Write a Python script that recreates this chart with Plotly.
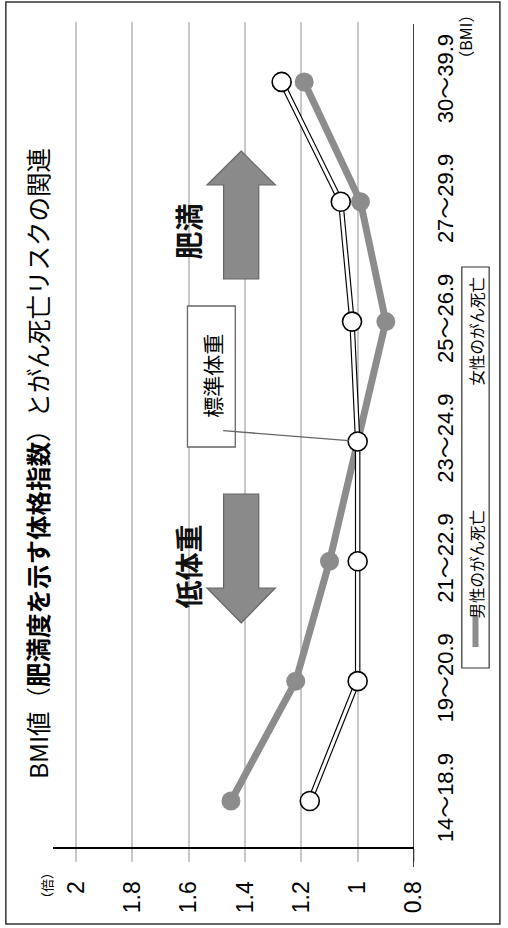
import plotly.graph_objects as go

# BMI categories (bottom to top) and relative cancer-death risk
categories = ["14～18.9", "19～20.9", "21～22.9", "23～24.9", "25～26.9", "27～29.9", "30～39.9"]
men_risk = [1.45, 1.22, 1.10, 1.00, 0.90, 0.99, 1.19]
women_risk = [1.17, 1.00, 1.00, 1.00, 1.02, 1.06, 1.27]
value_ticks = [0.8, 1.0, 1.2, 1.4, 1.6, 1.8, 2.0]
value_tick_text = ["0.8", "1", "1.2", "1.4", "1.6", "1.8", "2"]

W, H = 508, 928
GRAY = "#8c8c8c"
FONT = "Liberation Sans, Noto Sans CJK JP, sans-serif"
JFONT = "Noto Sans CJK JP, sans-serif"


def px(x):
    return x / W


def py(y):
    return 1 - y / H


fig = go.Figure()

# men: thick gray line with filled markers
fig.add_trace(go.Scatter(
    x=men_risk, y=categories, mode="lines+markers",
    line=dict(color=GRAY, width=7),
    marker=dict(color=GRAY, size=19),
    showlegend=False, cliponaxis=False,
))
# women: hollow double line with open circle markers
fig.add_trace(go.Scatter(
    x=women_risk, y=categories, mode="lines",
    line=dict(color="black", width=5.5),
    showlegend=False, cliponaxis=False,
))
fig.add_trace(go.Scatter(
    x=women_risk, y=categories, mode="lines",
    line=dict(color="white", width=3.2),
    showlegend=False, cliponaxis=False,
))
fig.add_trace(go.Scatter(
    x=women_risk, y=categories, mode="markers",
    marker=dict(color="white", size=19, line=dict(color="black", width=1.6)),
    showlegend=False, cliponaxis=False,
))

shapes = []
# outer frame
shapes.append(dict(type="rect", xref="paper", yref="paper",
                   x0=px(6), x1=px(512), y0=py(924), y1=py(2),
                   line=dict(color="#333333", width=1.5), layer="below"))
# category axis line at 0.8
shapes.append(dict(type="line", xref="x", yref="paper",
                   x0=0.8, x1=0.8, y0=py(867), y1=py(24),
                   line=dict(color="black", width=1.5)))


def arrow_path(pts):
    return "M " + " L ".join(f"{px(a)},{py(b)}" for a, b in pts) + " Z"


up_arrow = [(247, 151), (282, 185), (265, 185), (265, 279), (229, 279), (229, 185), (212, 185)]
down_arrow = [(247, 623), (282, 588), (265, 588), (265, 494), (229, 494), (229, 588), (212, 588)]
for pts in (up_arrow, down_arrow):
    shapes.append(dict(type="path", xref="paper", yref="paper", path=arrow_path(pts),
                       fillcolor="#8a8a8a", line=dict(color="#666666", width=1.2)))

# 標準体重 callout box
shapes.append(dict(type="rect", xref="paper", yref="paper",
                   x0=px(192), x1=px(241), y0=py(447), y1=py(306),
                   fillcolor="white", line=dict(color="#666666", width=1.3)))

# legend box and sample line
shapes.append(dict(type="rect", xref="paper", yref="paper",
                   x0=px(473), x1=px(501), y0=py(668), y1=py(267),
                   fillcolor="white", line=dict(color="#333333", width=1.2)))
shapes.append(dict(type="line", xref="paper", yref="paper",
                   x0=px(487), x1=px(487), y0=py(647), y1=py(615),
                   line=dict(color=GRAY, width=6)))

annotations = []


def vtext(text, x, y, size, family=FONT, color="black"):
    annotations.append(dict(text=text, x=px(x), y=py(y), xref="paper", yref="paper",
                            showarrow=False, textangle=-90,
                            font=dict(size=size, family=family, color=color),
                            xanchor="center", yanchor="middle"))


vtext("BMI値（<b>肥満度を示す体格指数</b>）とがん死亡リスクの関連", 38, 464, 24.5, JFONT)
vtext("<b>肥満</b>", 193, 231, 28, JFONT, "#111111")
vtext("<b>低体重</b>", 193, 566, 28, JFONT, "#111111")
vtext("標準体重", 217, 376, 21, JFONT)
vtext("男性のがん死亡", 488, 564, 15.5, JFONT)
vtext("女性のがん死亡", 488, 331, 15.5, JFONT)
vtext("（BMI）", 476, 37, 16, JFONT)
vtext("（倍）", 47, 885, 13, JFONT)

# leader line from the callout to the 23～24.9 women point
annotations.append(dict(x=women_risk[3], y=categories[3], xref="x", yref="y",
                        text="", showarrow=True, arrowhead=0, arrowwidth=1.3,
                        arrowcolor="#666666", ax=-136, ay=-11, standoff=9))

fig.update_layout(
    width=W, height=H,
    margin=dict(l=0, r=0, t=0, b=0),
    paper_bgcolor="white", plot_bgcolor="white",
    shapes=shapes, annotations=annotations,
    xaxis=dict(
        domain=[px(54), px(424)],
        range=[2.083, 0.8],
        tickvals=value_ticks, ticktext=value_tick_text,
        tickangle=-90,
        tickfont=dict(size=23, family=FONT, color="black"),
        showgrid=True, gridcolor="#c8c8c8", gridwidth=1.5,
        ticks="outside", ticklen=13, tickcolor="#c8c8c8", tickwidth=1.5,
        showline=True, linecolor="black", linewidth=2,
        zeroline=False, ticklabelstandoff=10,
    ),
    yaxis=dict(
        domain=[py(847), py(22)],
        type="category",
        range=[-0.384, 6.5],
        side="right",
        tickangle=-90,
        tickfont=dict(size=22, family=FONT, color="black"),
        showgrid=False, showline=False, ticks="",
        zeroline=False, ticklabelstandoff=16,
    ),
)

fig.write_html("out.html")
